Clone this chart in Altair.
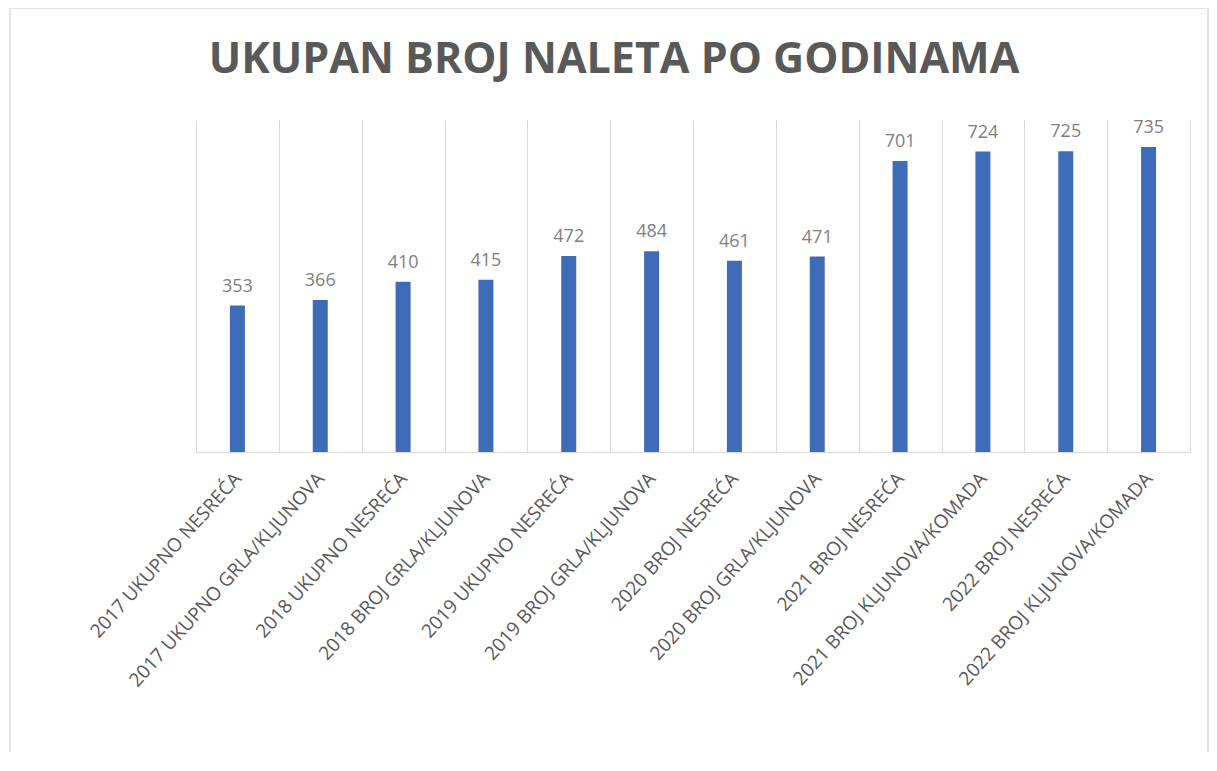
import altair as alt
import pandas as pd

categories = [
    "2017 UKUPNO NESREĆA",
    "2017 UKUPNO GRLA/KLJUNOVA",
    "2018 UKUPNO NESREĆA",
    "2018 BROJ GRLA/KLJUNOVA",
    "2019 UKUPNO NESREĆA",
    "2019 BROJ GRLA/KLJUNOVA",
    "2020 BROJ NESREĆA",
    "2020 BROJ GRLA/KLJUNOVA",
    "2021 BROJ NESREĆA",
    "2021 BROJ KLJUNOVA/KOMADA",
    "2022 BROJ NESREĆA",
    "2022 BROJ KLJUNOVA/KOMADA",
]
values = [353, 366, 410, 415, 472, 484, 461, 471, 701, 724, 725, 735]
title_text = "UKUPAN BROJ NALETA PO GODINAMA"

df = pd.DataFrame({"kategorija": categories, "vrijednost": values})

W, H = 994, 332
PAD_L, PAD_T, PAD_R, PAD_B = 188, 112, 19, 300
BAR_COLOR = "#3F6CB8"
GRID = "#d9d9d9"
TEXT_GRAY = "#595959"

x_enc = alt.X(
    "kategorija:N",
    sort=categories,
    scale=alt.Scale(paddingInner=0, paddingOuter=0),
    axis=alt.Axis(
        title=None,
        labelAngle=-48,
        labelFont="Open Sans",
        labelFontSize=19,
        labelColor=TEXT_GRAY,
        labelPadding=23,
        labelLimit=500,
        ticks=False,
        grid=True,
        gridColor=GRID,
        gridWidth=1,
        tickBand="extent",
        domainColor=GRID,
        domainWidth=1,
    ),
)
y_enc = alt.Y(
    "vrijednost:Q",
    scale=alt.Scale(domain=[0, 800], nice=False),
    axis=None,
)

bars = alt.Chart(df).mark_bar(size=15, color=BAR_COLOR).encode(x=x_enc, y=y_enc)
labels = alt.Chart(df).mark_text(
    dy=-19, font="Open Sans", fontSize=18, color="#7f7f7f", baseline="middle"
).encode(x=alt.X("kategorija:N", sort=categories), y="vrijednost:Q", text="vrijednost:Q")

meta = pd.DataFrame({"okvir": [0]})

frame = alt.Chart(meta).mark_rect(
    filled=False, stroke="#e3e3e3", strokeWidth=2
).encode(
    x=alt.value(-PAD_L + 2),
    x2=alt.value(W + PAD_R - 1),
    y=alt.value(-PAD_T),
    y2=alt.value(H + PAD_B + 20),
)

title = alt.Chart(meta).mark_text(
    font="Open Sans",
    fontSize=43,
    fontWeight="bold",
    color=TEXT_GRAY,
    align="center",
    baseline="alphabetic",
).encode(
    x=alt.value(418),
    y=alt.value(-47),
    text=alt.value(title_text),
)

chart = (
    alt.layer(frame, title, bars, labels)
    .properties(
        width=W,
        height=H,
        padding={"left": PAD_L, "top": PAD_T, "right": PAD_R, "bottom": PAD_B},
        autosize=alt.AutoSizeParams(type="none"),
    )
    .configure_view(stroke=None)
)

chart.save("out.html", embed_options={"renderer": "svg", "actions": False})
